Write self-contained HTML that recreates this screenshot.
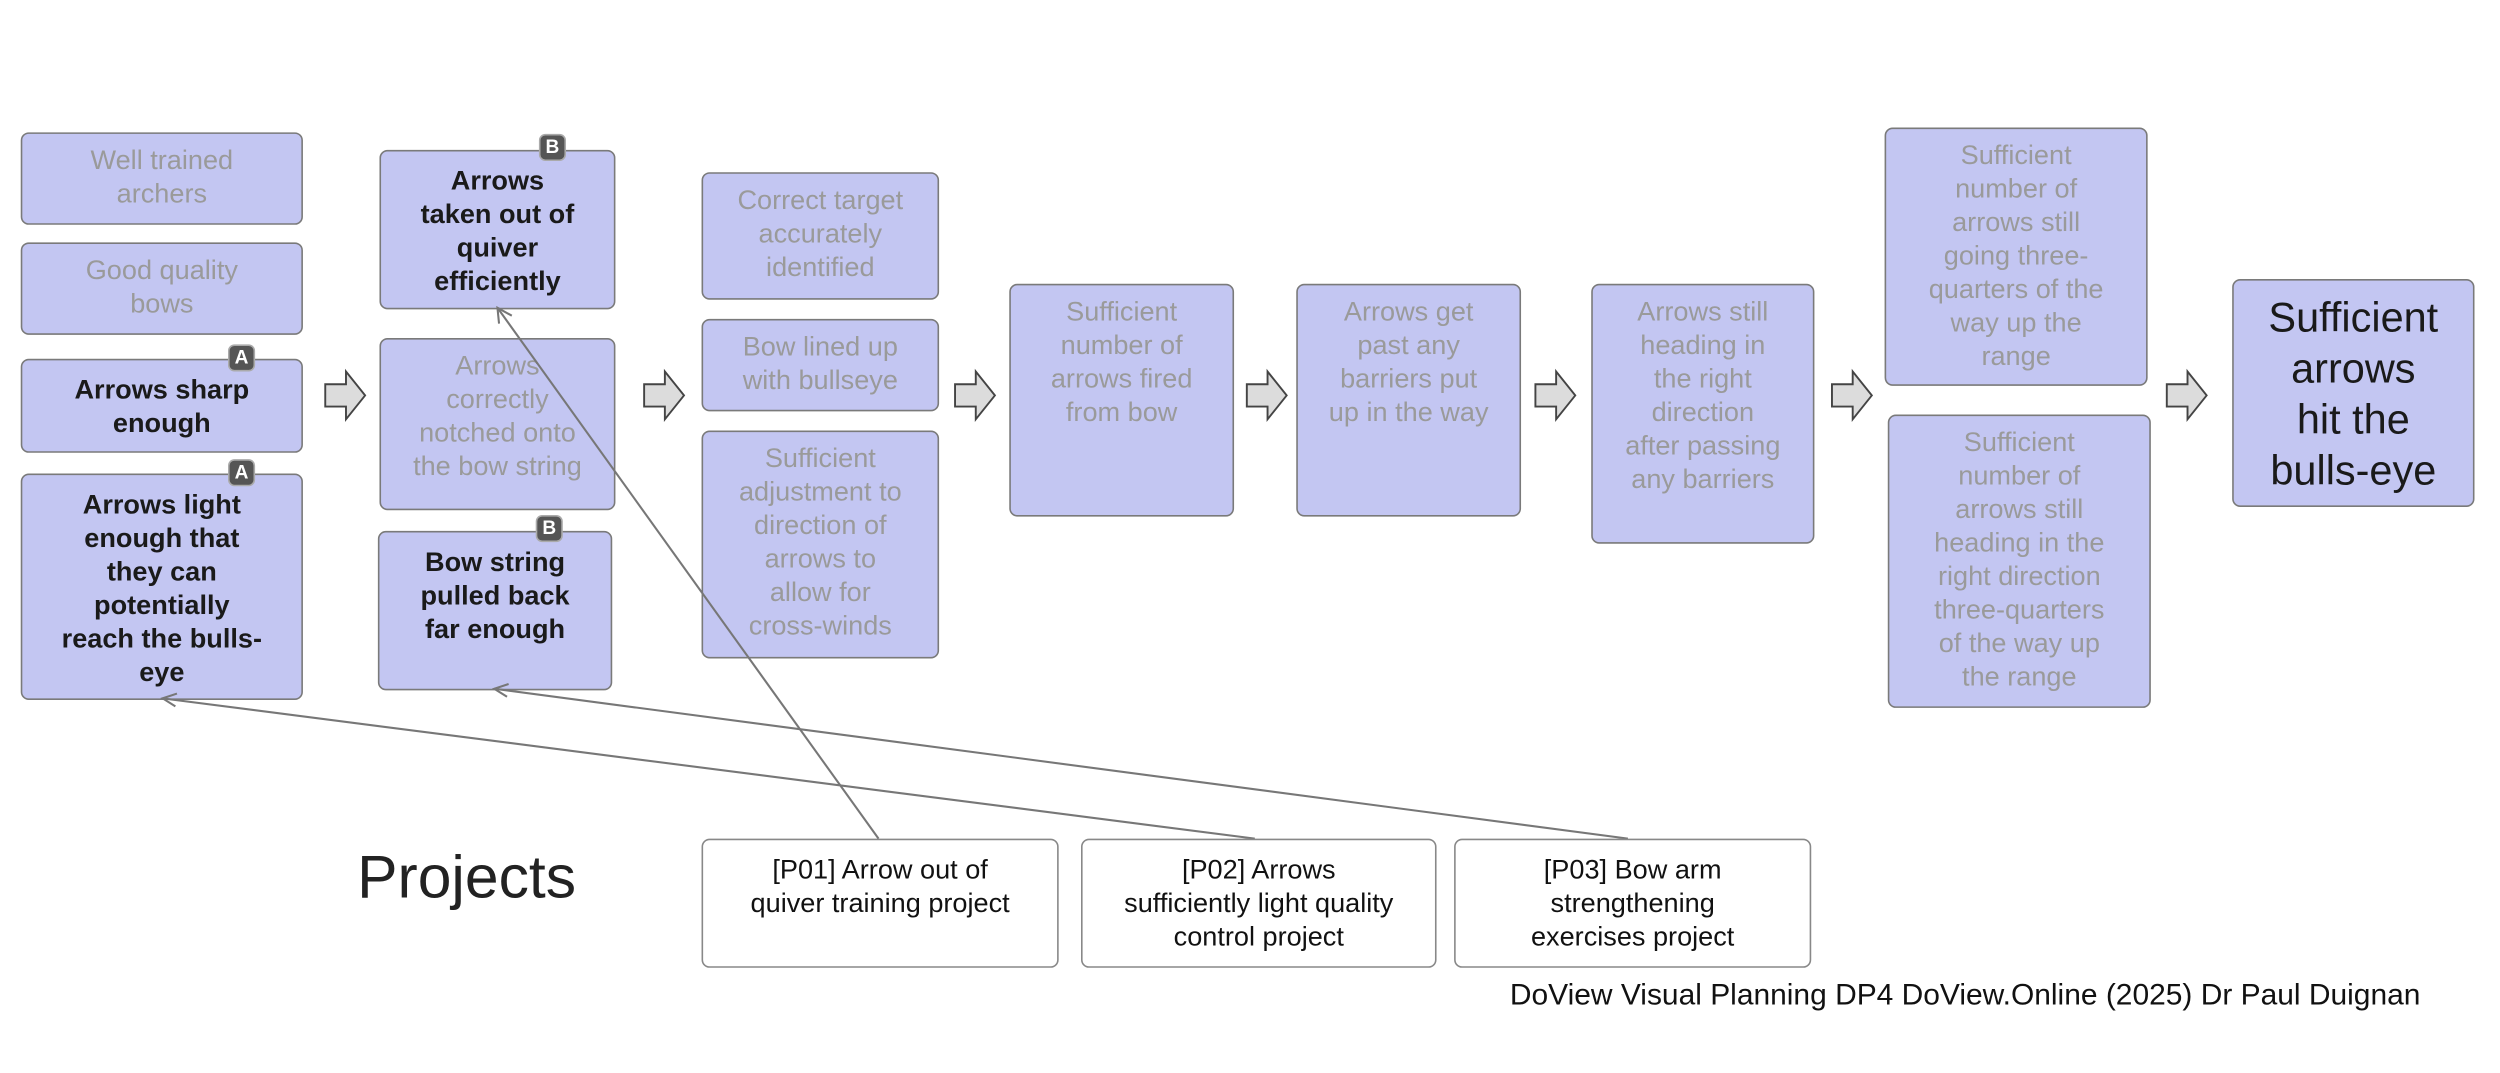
<!DOCTYPE html>
<html><head><meta charset="utf-8"><style>
html,body{margin:0;padding:0;background:#fff;}
body{width:2500px;height:1073px;overflow:hidden;position:relative;}
#s{position:absolute;left:0;top:0;width:1568px;height:673px;transform:scale(1.5944);transform-origin:0 0;font-family:"Liberation Sans",sans-serif;}
.b{position:absolute;box-sizing:border-box;background:#c3c6f2;border:1.3px solid #7a7a7a;border-radius:5px;text-align:center;font-size:17px;line-height:21px;color:#9a9a9a;padding-top:6px;}
.k{color:#1a1a1a;font-weight:bold;}
.p{position:absolute;box-sizing:border-box;background:#fff;border:1.3px solid #888;border-radius:5px;text-align:center;font-size:17px;line-height:21px;color:#111;padding-top:8px;}
.g{position:absolute;width:15px;height:15px;background:#555;border:1.5px solid #aaa;border-radius:4px;color:#fff;font-size:12px;line-height:15px;text-align:center;font-weight:bold;box-sizing:content-box;}
svg{position:absolute;left:0;top:0;}
</style></head><body><div id="s">
<div class="b" style="left:13px;top:83px;width:177px;height:58px">Well trained<br>archers</div>
<div class="b" style="left:13px;top:152px;width:177px;height:58px">Good quality<br>bows</div>
<div class="b k" style="left:13px;top:225px;width:177px;height:59px;padding-top:8px">Arrows sharp<br>enough</div>
<div class="b k" style="left:13px;top:297px;width:177px;height:142px;padding-top:8px">Arrows light<br>enough that<br>they can<br>potentially<br>reach the bulls-<br>eye</div>
<div class="b k" style="left:238px;top:94px;width:148px;height:100px;padding-top:8px">Arrows<br>taken out of<br>quiver<br>efficiently</div>
<div class="b" style="left:238px;top:212px;width:148px;height:108px">Arrows<br>correctly<br>notched onto<br>the bow string</div>
<div class="b k" style="left:237px;top:333px;width:147px;height:100px;padding-top:8px">Bow string<br>pulled back<br>far enough</div>
<div class="b" style="left:440px;top:108px;width:149px;height:80px">Correct target<br>accurately<br>identified</div>
<div class="b" style="left:440px;top:200px;width:149px;height:58px">Bow lined up<br>with bullseye</div>
<div class="b" style="left:440px;top:270px;width:149px;height:143px">Sufficient<br>adjustment to<br>direction of<br>arrows to<br>allow for<br>cross-winds</div>
<div class="b" style="left:633px;top:178px;width:141px;height:146px">Sufficient<br>number of<br>arrows fired<br>from bow</div>
<div class="b" style="left:813px;top:178px;width:141px;height:146px">Arrows get<br>past any<br>barriers put<br>up in the way</div>
<div class="b" style="left:998px;top:178px;width:140px;height:163px">Arrows still<br>heading in<br>the right<br>direction<br>after passing<br>any barriers</div>
<div class="b" style="left:1182px;top:80px;width:165px;height:162px">Sufficient<br>number of<br>arrows still<br>going three-<br>quarters of the<br>way up the<br>range</div>
<div class="b" style="left:1184px;top:260px;width:165px;height:184px">Sufficient<br>number of<br>arrows still<br>heading in the<br>right direction<br>three-quarters<br>of the way up<br>the range</div>
<div class="b" style="left:1400px;top:175px;width:152px;height:143px;font-size:26px;line-height:32px;color:#1a1a1a;padding-top:7px">Sufficient<br>arrows<br>hit the<br>bulls-eye</div>
<div class="g" style="left:143px;top:216px">A</div>
<div class="g" style="left:143px;top:288px">A</div>
<div class="g" style="left:338px;top:84px">B</div>
<div class="g" style="left:336px;top:323px">B</div>
<svg width="1568" height="673" viewBox="0 0 1568 673">
<defs><g id="ch"><polygon points="0,-7 13,-7 13,-15 25,0 13,15 13,7 0,7" fill="#dcdcdc" stroke="#444" stroke-width="1.2"/></g></defs>
<use href="#ch" x="204" y="248"/><use href="#ch" x="404" y="248"/><use href="#ch" x="599" y="248"/>
<use href="#ch" x="782" y="248"/><use href="#ch" x="963" y="248"/><use href="#ch" x="1149" y="248"/><use href="#ch" x="1359" y="248"/>
<g stroke="#777" stroke-width="1.3" fill="none">
<line x1="551" y1="526" x2="312" y2="193"/><polyline points="313,203 312,193 321,198"/>
<line x1="787" y1="526" x2="102" y2="438"/><polyline points="110,443 102,438 111,435"/>
<line x1="1021" y1="526" x2="310" y2="432"/><polyline points="318,437 310,432 319,429"/>
</g></svg>
<div style="position:absolute;left:224px;top:530px;font-size:38px;color:#222">Projects</div>
<div class="p" style="left:440px;top:526px;width:224px;height:81px">[P01] Arrow out of<br>quiver training project</div>
<div class="p" style="left:678px;top:526px;width:223px;height:81px">[P02] Arrows<br>sufficiently light quality<br>control project</div>
<div class="p" style="left:912px;top:526px;width:224px;height:81px">[P03] Bow arm<br>strengthening<br>exercises project</div>
<div style="position:absolute;left:947px;top:613px;font-size:18.8px;color:#111;white-space:nowrap">DoView Visual Planning DP4 DoView.Online (2025) Dr Paul Duignan</div>
</div></body></html>
